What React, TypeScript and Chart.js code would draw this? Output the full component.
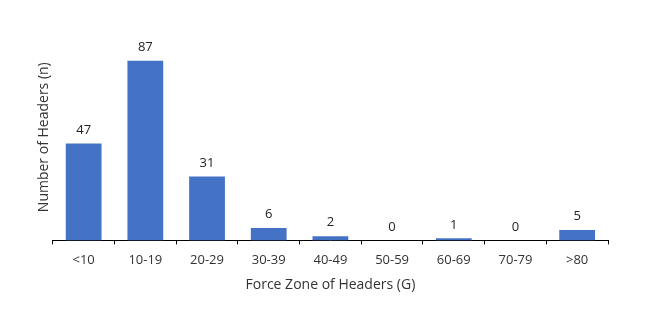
import React, { useEffect, useRef } from "react";
import { Chart, registerables } from "chart.js";

Chart.register(...registerables);

const categories = ["<10", "10-19", "20-29", "30-39", "40-49", "50-59", "60-69", "70-79", ">80"];
const headerCounts = [47, 87, 31, 6, 2, 0, 1, 0, 5];

const FONT = "'Open Sans', 'Noto Sans', sans-serif";

const valueLabels = {
  id: "valueLabels",
  afterDatasetsDraw(chart: any) {
    const ctx = chart.ctx;
    const meta = chart.getDatasetMeta(0);
    ctx.save();
    ctx.font = `13px ${FONT}`;
    ctx.fillStyle = "#222";
    ctx.textAlign = "center";
    ctx.textBaseline = "bottom";
    meta.data.forEach((bar: any, i: number) => {
      ctx.fillText(String(headerCounts[i]), bar.x, bar.y - 7);
    });
    ctx.restore();
  },
};

export default function App() {
  const ref = useRef<HTMLCanvasElement | null>(null);
  useEffect(() => {
    document.body.style.margin = "0";
    const chart = new Chart(ref.current!, {
      type: "bar",
      data: {
        labels: categories,
        datasets: [
          {
            data: headerCounts,
            backgroundColor: "#4472C4",
            barPercentage: 0.58,
            categoryPercentage: 1,
          },
        ],
      },
      options: {
        animation: false,
        responsive: false,
        layout: { padding: { left: 36, right: 41, top: 34, bottom: 28 } },
        plugins: { legend: { display: false }, tooltip: { enabled: false } },
        scales: {
          x: {
            grid: { display: true, drawOnChartArea: false, drawTicks: true, tickLength: 4, color: "#000", offset: true },
            border: { display: true, color: "#000", width: 1 },
            ticks: { color: "#333", font: { family: FONT, size: 13 }, padding: 8 },
            title: { display: true, text: "Force Zone of Headers (G)", color: "#333", font: { family: FONT, size: 14, lineHeight: 1 }, padding: { top: 2, bottom: 4 } },
          },
          y: {
            min: 0,
            max: 100,
            grid: { display: false, drawTicks: false },
            border: { display: false },
            ticks: { display: false, padding: 0 },
            title: { display: true, text: "Number of Headers (n)", color: "#333", font: { family: FONT, size: 14 }, padding: { top: 0, bottom: 0 } },
          },
        },
      },
      plugins: [valueLabels],
    });
    return () => chart.destroy();
  }, []);
  return <canvas ref={ref} width={649} height={324} style={{ display: "block" }} />;
}
